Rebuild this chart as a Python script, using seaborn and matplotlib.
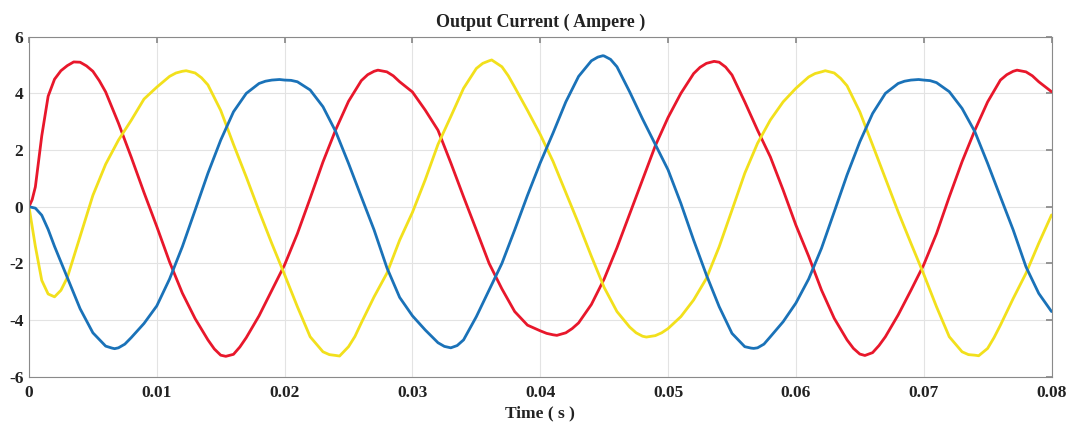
import numpy as np
import pandas as pd
import matplotlib
matplotlib.use("Agg")
import matplotlib.pyplot as plt
import seaborn as sns

# time samples in milliseconds (shared grid)
time_ms = [0, 0.5, 1, 1.5, 2, 2.5, 3,
           4, 5, 6, 7, 8, 9, 10, 11, 12, 13, 14, 15, 16, 17, 18, 19, 20,
           21, 22, 23, 24, 25, 26, 27, 28, 29, 30, 31, 32, 33, 34, 35, 36, 37, 38, 39, 40,
           41, 42, 43, 44, 45, 46, 47, 48, 49, 50, 51, 52, 53, 54, 55, 56, 57, 58, 59, 60,
           61, 62, 63, 64, 65, 66, 67, 68, 69, 70, 71, 72, 73, 74, 75, 76, 77, 78, 79, 80]

# phase currents (A) on the grid above
phase_a = [0, 0.7, 2.5, 3.9, 4.5, 4.8, 4.98,
           5.1, 4.78, 4.05, 2.95, 1.75, 0.5, -0.7,
           -1.95, -3.05, -3.95, -4.7, -5.24, -5.21, -4.62, -3.85, -2.95, -2.05,
           -0.95, 0.3, 1.58, 2.72, 3.72, 4.45, 4.78, 4.76, 4.41, 4.05,
           3.41, 2.7, 1.55, 0.35, -0.82, -2.0, -2.9, -3.7, -4.18, -4.38,
           -4.52, -4.45, -4.1, -3.45, -2.55, -1.45, -0.25, 0.95, 2.15, 3.15,
           4.0, 4.7, 5.06, 5.1, 4.65, 3.7, 2.7, 1.76, 0.59, -0.65,
           -1.75, -2.94, -3.94, -4.7, -5.2, -5.15, -4.59, -3.82, -2.95, -2.05,
           -0.95, 0.35, 1.59, 2.7, 3.7, 4.47, 4.78, 4.76, 4.41, 4.06]

phase_b = [0, -1.4, -2.6, -3.08, -3.18, -2.95, -2.5,
           -1.05, 0.4, 1.5, 2.35, 3.05, 3.8, 4.22,
           4.6, 4.78, 4.72, 4.3, 3.4, 2.2, 1.05, -0.15, -1.3, -2.4,
           -3.53, -4.59, -5.12, -5.25, -4.94, -4.1, -3.18, -2.35, -1.18, -0.2,
           0.95, 2.2, 3.18, 4.18, 4.88, 5.15, 4.94, 4.22, 3.4, 2.55,
           1.6, 0.5, -0.6, -1.75, -2.85, -3.7, -4.25, -4.57, -4.55, -4.3,
           -3.88, -3.29, -2.53, -1.41, -0.12, 1.18, 2.24, 3.06, 3.7, 4.18,
           4.58, 4.76, 4.72, 4.27, 3.35, 2.18, 1.0, -0.18, -1.29, -2.38,
           -3.53, -4.59, -5.12, -5.24, -5.0, -4.18, -3.24, -2.35, -1.29, -0.29]

phase_c = [0, -0.05, -0.3, -0.8, -1.4, -1.95, -2.5,
           -3.6, -4.45, -4.92, -4.98, -4.62, -4.12, -3.5,
           -2.55, -1.41, -0.12, 1.18, 2.35, 3.35, 4.0, 4.35, 4.47, 4.47,
           4.41, 4.12, 3.53, 2.65, 1.53, 0.35, -0.82, -2.15, -3.2, -3.85,
           -4.35, -4.8, -4.98, -4.7, -3.88, -2.94, -2.0, -0.82, 0.4, 1.55,
           2.6, 3.7, 4.6, 5.15, 5.32, 4.94, 4.05, 3.1, 2.2, 1.3,
           0.12, -1.18, -2.41, -3.53, -4.47, -4.94, -4.98, -4.59, -4.06, -3.4,
           -2.55, -1.47, -0.18, 1.12, 2.29, 3.29, 4.0, 4.35, 4.47, 4.47,
           4.38, 4.06, 3.47, 2.65, 1.53, 0.35, -0.82, -2.12, -3.06, -3.7]

# extra readings around the peaks and troughs of each phase
extra_a_ms = [0.25, 3.5, 4.5, 5.5, 14.5, 15.4, 16.5, 26.5, 27.3, 28.5,
              40.5, 41.3, 42.5, 52.5, 53.6, 54.5, 64.5, 65.4, 66.5, 76.5, 77.3, 78.5]
extra_a = [0.25, 5.11, 4.97, 4.45, -5.02, -5.28, -4.95, 4.66, 4.82, 4.62,
           -4.47, -4.54, -4.3, 4.92, 5.13, 4.93, -5.0, -5.25, -4.9, 4.66, 4.82, 4.62]

extra_b_ms = [11.5, 12.3, 13.5, 23.5, 24.3, 25.5, 35.5, 36.2, 37.5,
              47.5, 48.3, 49.5, 61.5, 62.3, 63.5, 73.5, 74.3, 75.5]
extra_b = [4.72, 4.8, 4.55, -5.22, -5.27, -4.58, 5.06, 5.18, 4.62,
           -4.45, -4.6, -4.45, 4.7, 4.8, 4.53, -5.22, -5.26, -4.62]

extra_c_ms = [6.5, 6.7, 7.5, 18.5, 19.6, 20.5, 32.5, 33.0, 33.5,
              44.5, 44.9, 45.5, 56.5, 56.7, 57.5, 68.5, 69.6, 70.5]
extra_c = [-4.99, -5.01, -4.85, 4.43, 4.49, 4.46, -4.93, -5.0, -4.9,
           5.28, 5.33, 5.2, -4.99, -5.0, -4.85, 4.43, 4.49, 4.45]

x_ticks = [0, 0.01, 0.02, 0.03, 0.04, 0.05, 0.06, 0.07, 0.08]
x_labels = ["0", "0.01", "0.02", "0.03", "0.04", "0.05", "0.06", "0.07", "0.08"]
y_ticks = [-6, -4, -2, 0, 2, 4, 6]

colors = {"A": "#e8172b", "B": "#f2e01c", "C": "#1a72b8"}


def phase_frame(name, grid_vals, extra_ms, extra_vals):
    ms = list(time_ms) + list(extra_ms)
    vals = list(grid_vals) + list(extra_vals)
    d = pd.DataFrame({"t": np.array(ms) / 1000.0, "i": vals, "phase": name})
    return d.drop_duplicates("t").sort_values("t")


def main():
    df = pd.concat([
        phase_frame("A", phase_a, extra_a_ms, extra_a),
        phase_frame("B", phase_b, extra_b_ms, extra_b),
        phase_frame("C", phase_c, extra_c_ms, extra_c),
    ])

    sns.set_theme(style="whitegrid")
    plt.rcParams["font.family"] = ["Liberation Serif", "DejaVu Serif"]
    plt.rcParams["axes.unicode_minus"] = False

    fig = plt.figure(figsize=(10.73, 4.25), dpi=100)
    ax = fig.add_axes([0.027, 0.1136, 0.953, 0.8])

    sns.lineplot(data=df, x="t", y="i", hue="phase", palette=colors,
                 linewidth=2.0, legend=False, ax=ax, sort=False,
                 solid_joinstyle="round", solid_capstyle="round")

    ax.set_xlim(0, 0.08)
    ax.set_ylim(-6, 6)
    ax.set_xticks(x_ticks)
    ax.set_xticklabels(x_labels)
    ax.set_yticks(y_ticks)
    ax.grid(True, color="#e3e3e3", linewidth=0.8)
    for s in ax.spines.values():
        s.set_color("#8a8a8a")
        s.set_linewidth(0.8)
    ax.tick_params(direction="in", length=4, color="#8a8a8a", top=True, right=True,
                   labelsize=12.5)
    ax.tick_params(axis="x", pad=6)
    ax.tick_params(axis="y", pad=4)
    for lab in ax.get_xticklabels() + ax.get_yticklabels():
        lab.set_fontweight("bold")
        lab.set_color("#222222")

    ax.set_title("Output Current ( Ampere )", fontsize=13, fontweight="bold",
                 color="#222222", pad=7)
    ax.set_xlabel("Time ( s )", fontsize=12.5, fontweight="bold", color="#222222",
                  labelpad=3)
    ax.set_ylabel("")

    fig.savefig("out.png", dpi=100)
    plt.close(fig)


if __name__ == "__main__":
    main()
